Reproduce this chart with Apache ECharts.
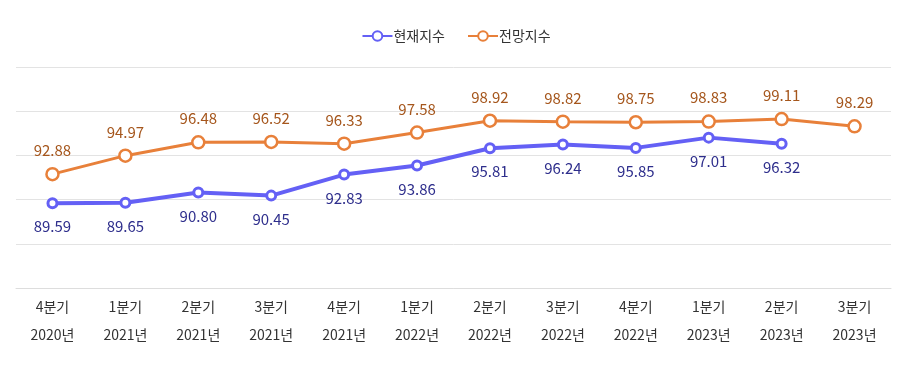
<!DOCTYPE html>
<html><head><meta charset="utf-8">
<script src="https://cdn.jsdelivr.net/npm/echarts@6/dist/echarts.min.js"></script>
<style>html,body{margin:0;padding:0;background:#fff}#c{width:912px;height:384px}</style>
</head><body><div id="c"></div>
<script>
const categories = ['4분기\n2020년','1분기\n2021년','2분기\n2021년','3분기\n2021년','4분기\n2021년','1분기\n2022년','2분기\n2022년','3분기\n2022년','4분기\n2022년','1분기\n2023년','2분기\n2023년','3분기\n2023년'];
const currentIndex = [89.59, 89.65, 90.80, 90.45, 92.83, 93.86, 95.81, 96.24, 95.85, 97.01, 96.32, null];
const outlookIndex = [92.88, 94.97, 96.48, 96.52, 96.33, 97.58, 98.92, 98.82, 98.75, 98.83, 99.11, 98.29];
const font = "'Noto Sans CJK KR', 'Noto Sans', sans-serif";
const chart = echarts.init(document.getElementById('c'), null, {renderer:'canvas'});
chart.setOption({
  animation:false,
  textStyle:{fontFamily:font},
  legend:{
    top:24, left:'center', itemWidth:30, itemHeight:12, itemGap:22,
    textStyle:{fontSize:14, color:'#333', fontFamily:font, padding:[0,0,0,-4]},
    data:['현재지수','전망지수']
  },
  grid:{left:16, right:21, top:67, bottom:96},
  xAxis:{
    type:'category', data:categories, boundaryGap:true,
    axisLine:{show:true, lineStyle:{color:'#dddddd'}},
    axisTick:{show:false},
    axisLabel:{color:'#333', fontSize:14, lineHeight:28, margin:5, fontFamily:font, interval:0}
  },
  yAxis:{
    type:'value', min:80, max:105, interval:5,
    axisLabel:{show:false}, axisLine:{show:false}, axisTick:{show:false},
    splitLine:{lineStyle:{color:'#e3e3e3', width:1}}
  },
  series:[
    {
      name:'현재지수', type:'line', data:currentIndex,
      symbol:'circle', symbolSize:9, showAllSymbol:true,
      lineStyle:{color:'#6460f5', width:4},
      itemStyle:{color:'#ffffff', borderColor:'#6460f5', borderWidth:3},
      label:{show:true, position:'bottom', distance:10, color:'#2e2e8c', fontSize:15, fontFamily:font, formatter:p=>p.value.toFixed(2)},
      z:3
    },
    {
      name:'전망지수', type:'line', data:outlookIndex,
      symbol:'circle', symbolSize:12, showAllSymbol:true,
      lineStyle:{color:'#e8803a', width:3},
      itemStyle:{color:'#ffffff', borderColor:'#e8803a', borderWidth:2.5},
      label:{show:true, position:'top', distance:9, color:'#a5561c', fontSize:15, fontFamily:font, formatter:p=>p.value.toFixed(2)},
      z:2
    }
  ]
});
</script></body></html>
